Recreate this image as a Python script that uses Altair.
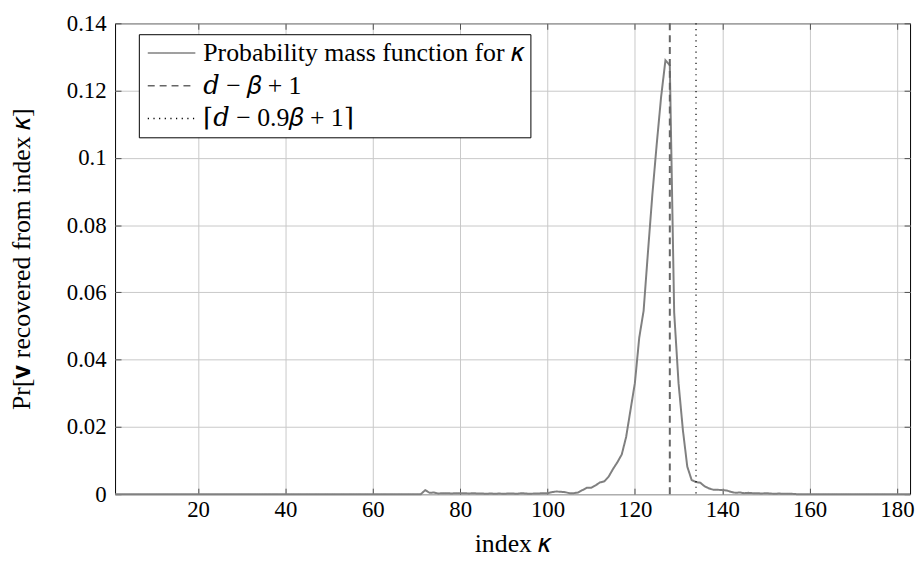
import altair as alt
import pandas as pd

# ---- data ----
kappa = list(range(1, 184))
pmf_zero_head = [0.0] * 71  # kappa 1..71
pmf_body = [  # kappa 72..156
    0.0012, 0.0004, 0.0005, 0.0002, 0.0003, 0.0003, 0.0002, 0.0003, 0.0003,  # 72-80
    0.0003, 0.0002, 0.0003, 0.0002, 0.0002, 0.0001, 0.0002, 0.0001, 0.0002, 0.0001,  # 81-90
    0.0002, 0.0002, 0.0001, 0.0003, 0.0002, 0.0001, 0.0002, 0.0002, 0.0003, 0.0003,  # 91-100
    0.0006, 0.0008, 0.0007, 0.0006, 0.0003, 0.0003, 0.0005, 0.0012, 0.0019, 0.0019,  # 101-110
    0.0026, 0.0035, 0.0038, 0.0052, 0.0075, 0.0095, 0.0118, 0.0170, 0.0250, 0.0330,  # 111-120
    0.0465, 0.0545, 0.0720, 0.0890, 0.1040, 0.1180, 0.1290, 0.1275, 0.0540, 0.0330,  # 121-130
    0.0190, 0.0082, 0.0042, 0.0036, 0.0034, 0.0023, 0.0017, 0.0013, 0.0013, 0.0012,  # 131-140
    0.0011, 0.0007, 0.0004, 0.0005, 0.0003, 0.0004, 0.0003, 0.0003, 0.0002, 0.0003,  # 141-150
    0.0002, 0.0001, 0.0002, 0.0001, 0.0001, 0.0001,  # 151-156
]
pmf_zero_tail = [0.0] * 27  # kappa 157..183
pmf = pmf_zero_head + pmf_body + pmf_zero_tail

series_names = ["Probability mass function for 𝜅", "𝑑 − 𝛽 + 1", "⌈𝑑 − 0.9𝛽 + 1⌉"]
series_colors = ["#808080", "#666666", "#000000"]
series_dashes = [[1, 0], [7, 5], [1.2, 4.5]]
rule_positions = [128, 134]

x_ticks = [20, 40, 60, 80, 100, 120, 140, 160, 180]
y_ticks = [0, 0.02, 0.04, 0.06, 0.08, 0.1, 0.12, 0.14]

df_pmf = pd.DataFrame({"kappa": kappa, "pmf": pmf, "series": series_names[0]})
df_r1 = pd.DataFrame({"kappa": [rule_positions[0]], "series": [series_names[1]]})
df_r2 = pd.DataFrame({"kappa": [rule_positions[1]], "series": [series_names[2]]})

FONT = "Liberation Serif, DejaVu Serif, serif"
LABEL_FS = 23
TITLE_FS = 26
LEGEND_FS = 26
TICK_COLOR = "#505050"

xscale = alt.Scale(domain=[1, 183], nice=False, zero=False)
yscale = alt.Scale(domain=[0, 0.14], nice=False)

color = alt.Color(
    "series:N",
    scale=alt.Scale(domain=series_names, range=series_colors),
    legend=alt.Legend(
        title=None, orient="none", legendX=24, legendY=11,
        strokeColor="black", fillColor="white", padding=6, cornerRadius=0,
        symbolType="M-1,0H3.8", symbolSize=400, symbolStrokeWidth=1.6,
        labelFont=FONT, labelFontSize=LEGEND_FS, labelColor="black", rowPadding=7,
        labelOffset=33, labelLimit=600,
    ),
)
dash = alt.StrokeDash(
    "series:N",
    scale=alt.Scale(domain=series_names, range=series_dashes),
    legend=alt.Legend(title=None),
)


def inner_axis(orient, values):
    return alt.Axis(
        orient=orient, offset=-6, values=values, ticks=True, tickSize=6,
        tickColor=TICK_COLOR, tickWidth=1, labels=False, grid=False,
        domain=False, title=None,
    )


line = alt.Chart(df_pmf).mark_line(strokeWidth=2).encode(
    x=alt.X(
        "kappa:Q", scale=xscale,
        axis=alt.Axis(values=x_ticks, title="index 𝜅", titlePadding=9, labelPadding=5,
                      grid=True),
    ),
    y=alt.Y(
        "pmf:Q", scale=yscale,
        axis=alt.Axis(values=y_ticks, format="~g", title="Pr[𝐯 recovered from index 𝜅]",
                      titlePadding=32, labelPadding=9, grid=True),
    ),
    color=color,
    strokeDash=dash,
)
ticks_bl = alt.Chart(df_pmf).mark_line(opacity=0).encode(
    x=alt.X("kappa:Q", scale=xscale, axis=inner_axis("bottom", x_ticks)),
    y=alt.Y("pmf:Q", scale=yscale, axis=inner_axis("left", y_ticks)),
)
ticks_tr = alt.Chart(df_pmf).mark_line(opacity=0).encode(
    x=alt.X("kappa:Q", scale=xscale, axis=inner_axis("top", x_ticks)),
    y=alt.Y("pmf:Q", scale=yscale, axis=inner_axis("right", y_ticks)),
)
rule1 = alt.Chart(df_r1).mark_rule(strokeWidth=2).encode(
    x=alt.X("kappa:Q", scale=xscale, axis=None), color=color, strokeDash=dash
)
rule2 = alt.Chart(df_r2).mark_rule(strokeWidth=1.2).encode(
    x=alt.X("kappa:Q", scale=xscale, axis=None), color=color, strokeDash=dash
)

chart = (
    alt.layer(line, ticks_bl, ticks_tr, rule1, rule2)
    .resolve_axis(x="independent", y="independent")
    .properties(
        width=802, height=475,
        autosize=alt.AutoSizeParams(type="none"),
        padding={"left": 108, "top": 13, "right": 6, "bottom": 68},
    )
    .configure_view(stroke="black", strokeWidth=1)
    .configure_axis(
        gridColor="#c8c8c8", gridWidth=1, domain=False,
        ticks=False, tickSize=0,
        labelFont=FONT, labelFontSize=LABEL_FS, labelColor="black",
        titleFont=FONT, titleFontSize=TITLE_FS, titleFontWeight="normal", titleColor="black",
    )
)

chart.save("out.html", embed_options={"renderer": "svg", "actions": False})
